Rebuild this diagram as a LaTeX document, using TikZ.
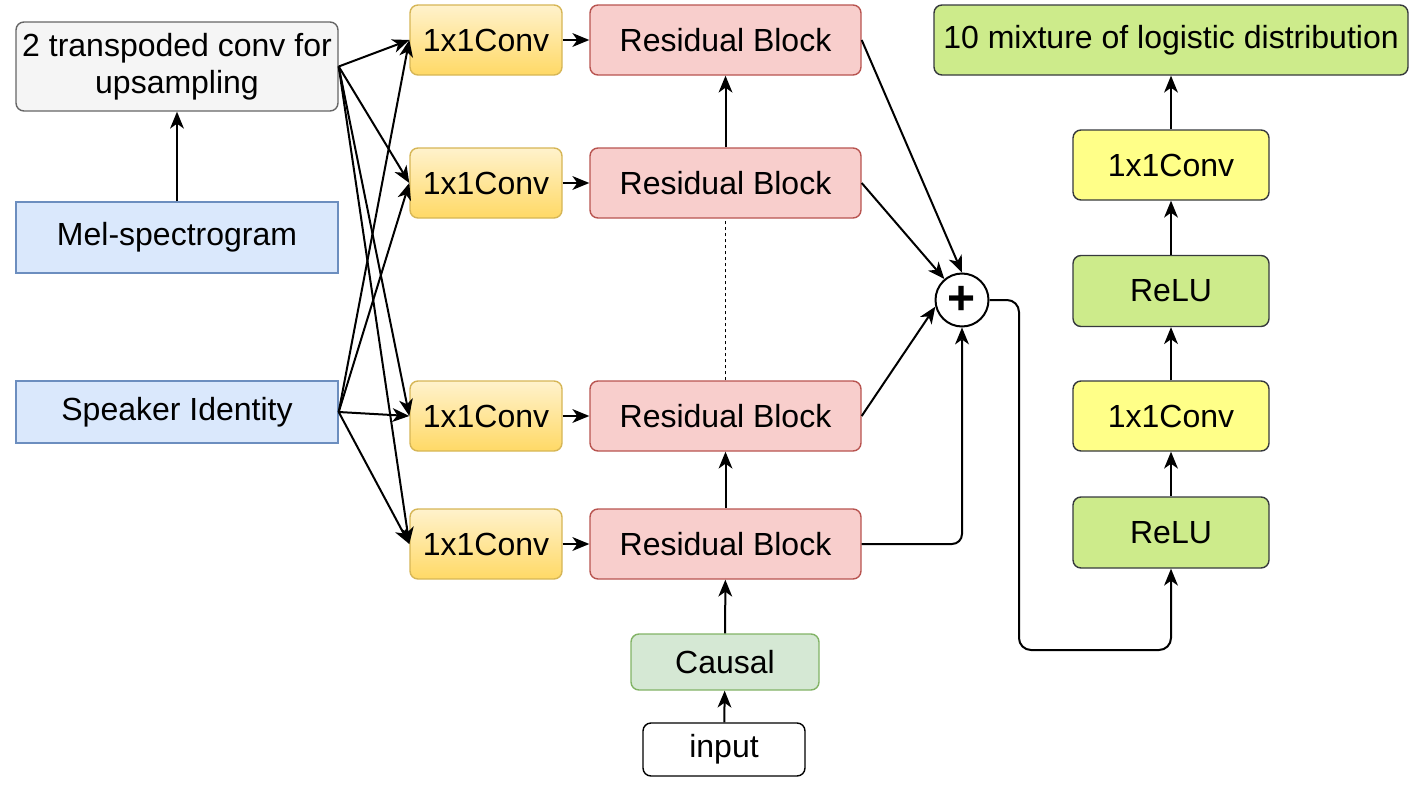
\documentclass[tikz,border=0pt]{standalone}
\usepackage{fontspec}
\setmainfont{Liberation Sans}
\usetikzlibrary{arrows.meta}
\definecolor{grayF}{HTML}{F5F5F5}
\definecolor{grayD}{HTML}{666666}
\definecolor{blueF}{HTML}{DAE8FC}
\definecolor{blueD}{HTML}{6C8EBF}
\definecolor{orT}{HTML}{FFF2CC}
\definecolor{orB}{HTML}{FFD966}
\definecolor{orD}{HTML}{D6B656}
\definecolor{redF}{HTML}{F8CECC}
\definecolor{redD}{HTML}{B85450}
\definecolor{grnF}{HTML}{D5E8D4}
\definecolor{grnD}{HTML}{82B366}
\definecolor{limeF}{HTML}{CDEB8B}
\definecolor{darkD}{HTML}{36393D}
\definecolor{yelF}{HTML}{FFFF88}
\tikzset{
  box/.style={draw, rounded corners=8pt, line width=1.4pt, inner sep=0pt,
    font=\fontsize{32}{37}\selectfont, align=center},
  sqbox/.style={box, rounded corners=0pt},
  tconvbox/.style={box, fill=grayF, draw=grayD, minimum width=322pt, minimum height=89pt},
  inbox/.style={sqbox, fill=blueF, draw=blueD, minimum width=322pt},
  convbox/.style={box, top color=orT, bottom color=orB, draw=orD, minimum width=152pt, minimum height=70pt},
  resbox/.style={box, fill=redF, draw=redD, minimum width=271pt, minimum height=70pt},
  limebox/.style={box, fill=limeF, draw=darkD, minimum width=196pt, minimum height=71pt},
  yelbox/.style={box, fill=yelF, draw=darkD, minimum width=196pt, minimum height=70pt},
  tipA/.tip={Stealth[length=17pt,width=14pt,inset=5pt,line width=0pt]},
  conn/.style={line width=2pt, arrows={-tipA}},
  plain/.style={line width=2pt}
}
\begin{document}
\begin{tikzpicture}[x=1pt,y=-1pt]
\useasboundingbox (0,0) rectangle (1424,787);

\node[tconvbox] (tconv) at (177,66.5) {2 transpoded conv for\\upsampling};
\node[inbox, minimum height=71pt] (mel) at (177,237.5) {Mel-spectrogram};
\node[inbox, minimum height=62pt] (spk) at (177,412) {Speaker Identity};

\node[convbox] (c1) at (486,40) {1x1Conv};
\node[convbox] (c2) at (486,183) {1x1Conv};
\node[convbox] (c3) at (486,416) {1x1Conv};
\node[convbox] (c4) at (486,544) {1x1Conv};

\node[resbox] (r1) at (725.5,40) {Residual Block};
\node[resbox] (r2) at (725.5,183) {Residual Block};
\node[resbox] (r3) at (725.5,416) {Residual Block};
\node[resbox] (r4) at (725.5,544) {Residual Block};

\node[box, fill=grnF, draw=grnD, minimum width=188pt, minimum height=56pt] (causal) at (725,662) {Causal};
\node[box, fill=white, draw=black, minimum width=162pt, minimum height=53pt] (input) at (724,749.5) {input};

\node[circle, draw, line width=2pt, fill=white, minimum size=53pt, inner sep=0pt,
  font=\fontsize{48}{48}\selectfont\bfseries] (plus) at (962,300) {+};

\node[limebox, minimum width=474pt, minimum height=70pt] (mix) at (1171,40) {10 mixture of logistic distribution};
\node[yelbox] (y1) at (1171,165) {1x1Conv};
\node[limebox] (l1) at (1171,291) {ReLU};
\node[yelbox] (y2) at (1171,416) {1x1Conv};
\node[limebox] (l2) at (1171,532.5) {ReLU};

\draw[conn] (mel) -- (tconv);
\foreach \c in {c1,c2,c3,c4}{
  \draw[conn] (tconv.east) -- (\c.west);
  \draw[conn] (spk.east) -- (\c.west);
}
\draw[conn] (c1) -- (r1);
\draw[conn] (c2) -- (r2);
\draw[conn] (c3) -- (r3);
\draw[conn] (c4) -- (r4);

\draw[conn] (input) -- (causal);
\draw[conn] (causal) -- (r4);
\draw[conn] (r4) -- (r3);
\draw[plain, dashed, line width=1.4pt] (r3) -- (r2);
\draw[conn] (r2) -- (r1);

\draw[conn] (r1.east) -- (plus.north);
\draw[conn] (r2.east) -- (plus.130);
\draw[conn] (r3.east) -- (plus.194);
\draw[conn, rounded corners=10pt] (r4.east) -| (plus.south);

\coordinate (lp) at (1019,650);
\draw[conn, rounded corners=12pt] (plus.east) -| (lp) -| (l2.south);

\draw[conn] (l2) -- (y2);
\draw[conn] (y2) -- (l1);
\draw[conn] (l1) -- (y1);
\draw[conn] (y1) -- (mix);
\end{tikzpicture}
\end{document}
